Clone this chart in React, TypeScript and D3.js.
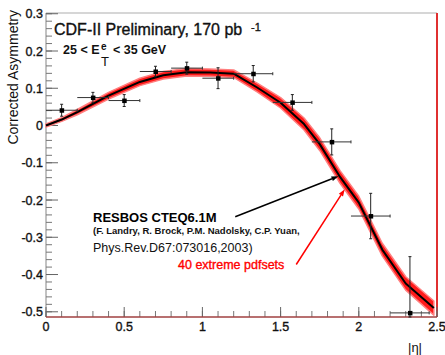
import React from "react";
import * as d3 from "d3";

// measured points, |eta| bins
const etaLo = [0, 0.2, 0.4, 0.6, 0.8, 1.0, 1.2, 1.45, 1.7, 1.95, 2.2];
const etaHi = [0.2, 0.4, 0.6, 0.8, 1.0, 1.2, 1.45, 1.7, 1.95, 2.2, 2.45];
const etaCenter = [0.1, 0.3, 0.5, 0.7, 0.9, 1.1, 1.325, 1.575, 1.827, 2.076, 2.327];
const asym = [0.041, 0.075, 0.067, 0.145, 0.154, 0.127, 0.139, 0.062, -0.044, -0.243, -0.503];
const asymErr = [0.016, 0.014, 0.016, 0.014, 0.016, 0.028, 0.022, 0.021, 0.035, 0.061, 0.151];

// RESBOS CTEQ6.1M prediction and pdf band half width
const theoryEta = [0, 0.1, 0.2, 0.4, 0.6, 0.75, 0.9, 1.05, 1.2, 1.35, 1.5, 1.65, 1.75, 1.88, 2.0, 2.15, 2.3, 2.48];
const theoryAsym = [0.0, 0.016, 0.036, 0.08, 0.117, 0.135, 0.143, 0.142, 0.139, 0.102, 0.061, 0.004, -0.05, -0.138, -0.207, -0.333, -0.424, -0.49];
const bandHalf = [0.004, 0.005, 0.007, 0.009, 0.01, 0.01, 0.01, 0.01, 0.01, 0.012, 0.014, 0.016, 0.017, 0.017, 0.017, 0.017, 0.018, 0.019];

// annotation arrows [eta, asym]
const blackArrow = [[1.21, -0.245], [1.87, -0.136]];
const redArrow = [[1.6, -0.373], [1.91, -0.171]];

const yMajor = [-0.5, -0.4, -0.3, -0.2, -0.1, 0, 0.1, 0.2, 0.3];
const xMajor = [0, 0.5, 1, 1.5, 2, 2.5];

const W = 445;
const H = 355;
const font = "'Liberation Sans', Arial, Helvetica, sans-serif";

function Arrow({ from, to, color, x, y }: any) {
  const x1 = x(from[0]), y1 = y(from[1]), x2 = x(to[0]), y2 = y(to[1]);
  const a = Math.atan2(y2 - y1, x2 - x1);
  const len = 7, wid = 2.5;
  const bx = x2 - len * Math.cos(a), by = y2 - len * Math.sin(a);
  const p = `${x2},${y2} ${bx + wid * Math.sin(a)},${by - wid * Math.cos(a)} ${bx - wid * Math.sin(a)},${by + wid * Math.cos(a)}`;
  return (
    <g>
      <line x1={x1} y1={y1} x2={bx} y2={by} stroke={color} strokeWidth={1.5} />
      <polygon points={p} fill={color} />
    </g>
  );
}

export default function App() {
  const x = d3.scaleLinear().domain([0, 2.5]).range([46, 437]);
  const y = d3.scaleLinear().domain([-0.514, 0.302]).range([317, 13]);
  const [top, bottom] = y.range().slice().reverse();

  const idx = d3.range(theoryEta.length);
  const band = d3
    .area<number>()
    .x((i) => x(theoryEta[i]))
    .y0((i) => y(theoryAsym[i] - bandHalf[i]))
    .y1((i) => y(theoryAsym[i] + bandHalf[i]));
  const line = d3
    .line<number>()
    .x((i) => x(theoryEta[i]))
    .y((i) => y(theoryAsym[i]));

  const yMinor = d3.range(-0.5, 0.3001, 0.02);
  const xMinor = d3.range(0, 2.5001, 0.1);
  const heavy = { stroke: "#111", strokeWidth: 0.35 };

  return (
    <svg
      width={W}
      height={H}
      style={{ position: "fixed", left: 0, top: 0, background: "#fff" }}
      fontFamily={font}
    >
      {/* frame */}
      <line x1={46} x2={437} y1={top} y2={top} stroke="#c8c8c8" strokeWidth={1.5} />
      <line x1={437} x2={437} y1={top} y2={bottom} stroke="#e03030" strokeWidth={2} />
      <line x1={46} x2={46} y1={top} y2={bottom} stroke="#999" strokeWidth={1.2} />

      {/* y ticks */}
      {yMinor.map((v, i) => (
        <line key={"ym" + i} x1={46} x2={52} y1={y(v)} y2={y(v)} stroke="#777" strokeWidth={1} />
      ))}
      {yMajor.map((v) => (
        <g key={"yM" + v}>
          <line x1={46} x2={58} y1={y(v)} y2={y(v)} stroke="#666" strokeWidth={1} />
          <text x={43} y={y(v) + 4.5} textAnchor="end" fontSize={12.5} fill="#111" {...heavy}>
            {v === 0 ? "0" : d3.format(".1f")(v).replace("−", "-")}
          </text>
        </g>
      ))}

      {/* x ticks */}
      {xMinor.map((v, i) => (
        <line key={"xm" + i} x1={x(v)} x2={x(v)} y1={bottom} y2={bottom - 6} stroke="#777" strokeWidth={1} />
      ))}
      {xMajor.map((v) => (
        <g key={"xM" + v}>
          <line x1={x(v)} x2={x(v)} y1={bottom} y2={bottom - 10} stroke="#666" strokeWidth={1} />
          <text x={x(v)} y={331} textAnchor="middle" fontSize={12.5} fill="#111" {...heavy}>
            {String(v)}
          </text>
        </g>
      ))}
      <line x1={46} x2={437} y1={bottom} y2={bottom} stroke="#a04040" strokeWidth={1.5} />

      {/* axis titles */}
      <text transform="translate(18,10) rotate(-90)" textAnchor="end" fontSize={14} fill="#111">
        Corrected Asymmetry
      </text>
      <text x={415} y={352} textAnchor="middle" fontSize={13} fill="#111">
        |η|
      </text>

      {/* pdf band + central prediction */}
      <path d={band(idx) || ""} fill="#ff1a1a" stroke="#ff8080" strokeWidth={1.5} strokeLinejoin="round" />
      <path d={line(idx) || ""} fill="none" stroke="#000" strokeWidth={2} strokeLinejoin="round" />

      {/* data */}
      {etaCenter.map((e, i) => {
        const cx = x(e), cy = y(asym[i]);
        const yt = Math.max(y(asym[i] + asymErr[i]), top);
        const yb = Math.min(y(asym[i] - asymErr[i]), bottom);
        return (
          <g key={"p" + i}>
            <line x1={x(etaLo[i])} x2={x(etaHi[i])} y1={cy} y2={cy} stroke="#333" strokeWidth={1} />
            <line x1={cx} x2={cx} y1={yt} y2={yb} stroke="#222" strokeWidth={1} />
            <line x1={cx - 1.5} x2={cx + 1.5} y1={yt} y2={yt} stroke="#222" strokeWidth={1} />
            <line x1={cx - 1.5} x2={cx + 1.5} y1={yb} y2={yb} stroke="#222" strokeWidth={1} />
            <line x1={x(etaHi[i])} x2={x(etaHi[i])} y1={cy - 1.5} y2={cy + 1.5} stroke="#333" strokeWidth={1} />
            <rect x={cx - 2} y={cy - 2} width={4.5} height={4.5} fill="#000" />
          </g>
        );
      })}

      {/* labels */}
      <text x={54} y={35} fontSize={16} fill="#111" {...heavy}>
        CDF-II Preliminary, 170 pb
      </text>
      <text x={251} y={31} fontSize={11} fill="#111" {...heavy}>
        -1
      </text>
      <text x={63} y={54} fontSize={12.5} fontWeight="bold" fill="#111">
        25 &lt; E
      </text>
      <text x={101} y={50} fontSize={10} fontWeight="bold" fill="#111">
        e
      </text>
      <text x={101} y={66} fontSize={13} fill="#111">
        T
      </text>
      <text x={113} y={54} fontSize={12.5} fontWeight="bold" fill="#111">
        &lt; 35 GeV
      </text>

      <Arrow from={blackArrow[0]} to={blackArrow[1]} color="#000" x={x} y={y} />
      <Arrow from={redArrow[0]} to={redArrow[1]} color="#ff0000" x={x} y={y} />

      <text x={93} y={221.5} fontSize={13} fontWeight="bold" fill="#000">
        RESBOS CTEQ6.1M
      </text>
      <text x={93} y={234} fontSize={9.5} fontWeight="bold" fill="#111">
        (F. Landry, R. Brock, P.M. Nadolsky, C.P. Yuan,
      </text>
      <text x={93} y={251.5} fontSize={12.5} fill="#111">
        Phys.Rev.D67:073016,2003)
      </text>
      <text x={178} y={269} fontSize={12.5} fill="#ff0000" stroke="#ff0000" strokeWidth={0.35}>
        40 extreme pdfsets
      </text>
    </svg>
  );
}
